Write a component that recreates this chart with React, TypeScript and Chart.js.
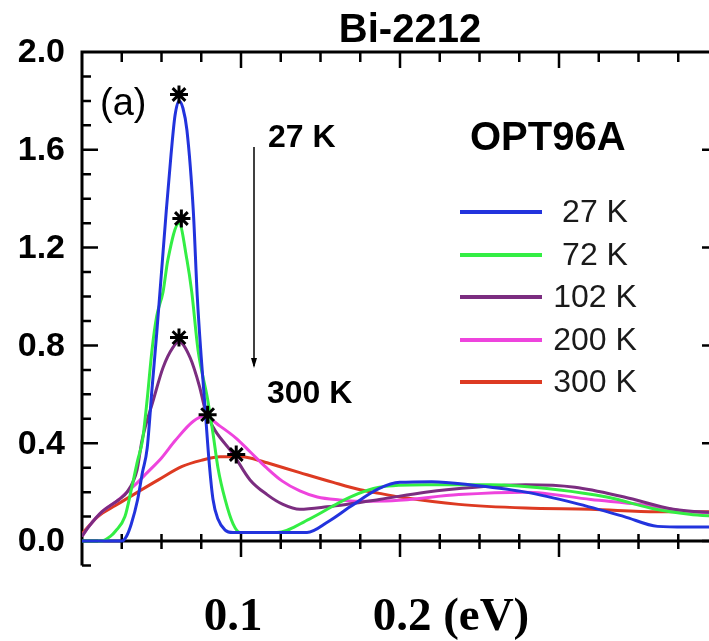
import React, { useEffect, useRef } from 'react';
import { Chart, registerables } from 'chart.js';
Chart.register(...registerables);

// ---- data (energy in eV, spectral weight) ----
const seriesLabels = ['27 K', '72 K', '102 K', '200 K', '300 K'];
const seriesColors = ['#2233dd', '#33ee44', '#7b2d80', '#ee44dd', '#dd3a22'];

const e27 = [0, 0.025, 0.028, 0.031, 0.035, 0.038, 0.041, 0.044, 0.047, 0.050, 0.053, 0.056, 0.0585, 0.061, 0.0635, 0.066, 0.070, 0.0725, 0.075, 0.077, 0.080, 0.0824, 0.0855, 0.090, 0.095, 0.1415, 0.155, 0.1686, 0.187, 0.200, 0.220, 0.2475, 0.279, 0.310, 0.341, 0.362, 0.380, 0.400];
const s27 = [0, 0, 0.02, 0.07, 0.17, 0.28, 0.38, 0.62, 0.85, 1.10, 1.35, 1.58, 1.74, 1.80, 1.77, 1.68, 1.35, 1.00, 0.75, 0.58, 0.32, 0.17, 0.09, 0.045, 0.035, 0.035, 0.08, 0.14, 0.215, 0.24, 0.243, 0.227, 0.20, 0.155, 0.10, 0.06, 0.057, 0.057];

const e72 = [0, 0.012, 0.018, 0.021, 0.027, 0.031, 0.035, 0.038, 0.041, 0.044, 0.047, 0.051, 0.054, 0.061, 0.066, 0.069, 0.073, 0.079, 0.0824, 0.0855, 0.090, 0.095, 0.0994, 0.1226, 0.143, 0.1686, 0.187, 0.216, 0.257, 0.299, 0.330, 0.361, 0.382, 0.400];
const s72 = [0, 0, 0.02, 0.04, 0.10, 0.21, 0.33, 0.41, 0.58, 0.78, 0.92, 1.02, 1.15, 1.30, 1.15, 1.02, 0.78, 0.58, 0.44, 0.30, 0.17, 0.07, 0.035, 0.035, 0.09, 0.18, 0.22, 0.23, 0.23, 0.21, 0.18, 0.13, 0.11, 0.10];

const e102 = [0, 0.0044, 0.0126, 0.0233, 0.0283, 0.0346, 0.0377, 0.045, 0.051, 0.057, 0.061, 0.068, 0.074, 0.0774, 0.0962, 0.1057, 0.1164, 0.1264, 0.137, 0.154, 0.187, 0.216, 0.2475, 0.279, 0.310, 0.341, 0.372, 0.400];
const s102 = [0.02, 0.06, 0.12, 0.17, 0.20, 0.29, 0.41, 0.58, 0.71, 0.79, 0.815, 0.75, 0.63, 0.54, 0.345, 0.25, 0.19, 0.15, 0.13, 0.14, 0.17, 0.20, 0.22, 0.23, 0.22, 0.18, 0.13, 0.115];

const e200 = [0, 0.0044, 0.0126, 0.0233, 0.0283, 0.035, 0.041, 0.050, 0.0585, 0.070, 0.077, 0.0868, 0.097, 0.1057, 0.116, 0.126, 0.137, 0.148, 0.162, 0.174, 0.195, 0.237, 0.279, 0.320, 0.351, 0.382, 0.400];
const s200 = [0.02, 0.06, 0.12, 0.17, 0.20, 0.24, 0.28, 0.34, 0.41, 0.49, 0.51, 0.47, 0.42, 0.365, 0.30, 0.245, 0.205, 0.18, 0.168, 0.163, 0.165, 0.19, 0.20, 0.17, 0.15, 0.12, 0.115];

const e300 = [0, 0.010, 0.021, 0.035, 0.048, 0.063, 0.075, 0.0868, 0.100, 0.1057, 0.1164, 0.137, 0.158, 0.175, 0.187, 0.200, 0.237, 0.279, 0.320, 0.362, 0.400];
const s300 = [0.03, 0.10, 0.145, 0.20, 0.25, 0.305, 0.33, 0.345, 0.345, 0.34, 0.32, 0.28, 0.24, 0.21, 0.195, 0.18, 0.15, 0.135, 0.13, 0.12, 0.12];

// peak markers (asterisks)
const peakE = [0.061, 0.0625, 0.061, 0.079, 0.097];
const peakS = [1.826, 1.319, 0.832, 0.517, 0.354];

const energies = [e27, e72, e102, e200, e300];
const weights = [s27, s72, s102, s200, s300];

const yTickValues = [0, 0.4, 0.8, 1.2, 1.6, 2.0];
const yTickLabels = ['0.0', '0.4', '0.8', '1.2', '1.6', '2.0'];
const xTickValues = [0.1, 0.2];
const xTickLabels = ['0.1', '0.2 (eV)'];

const SANS = '"Liberation Sans", Arial, sans-serif';
const SERIF = '"Liberation Serif", "Times New Roman", serif';

const framePlugin = {
  id: 'frame',
  beforeDatasetsDraw(chart: any) {
    const { ctx, chartArea: a, scales } = chart;
    const x = scales.x, y = scales.y;
    const y0 = y.getPixelForValue(0);
    ctx.save();
    ctx.strokeStyle = '#000';
    ctx.lineCap = 'butt';
    ctx.lineWidth = 3;
    ctx.beginPath();
    ctx.moveTo(a.left, a.bottom);
    ctx.lineTo(a.left, a.top);
    ctx.lineTo(a.right, a.top);
    ctx.lineTo(a.right, y0);
    ctx.moveTo(a.left, y0);
    ctx.lineTo(a.right, y0);
    ctx.stroke();
    ctx.lineWidth = 2.5;
    ctx.beginPath();
    for (let i = 1; i < 16; i++) {
      const px = x.getPixelForValue(i * 0.025);
      const major = i % 4 === 0;
      ctx.moveTo(px, a.top);
      ctx.lineTo(px, a.top + (major ? 16 : 10));
      ctx.moveTo(px, y0 - 7);
      ctx.lineTo(px, y0 + (major ? 16 : 8));
    }
    for (let j = -1; j < 20; j++) {
      const py = y.getPixelForValue(j / 10);
      const major = j >= 0 && j % 4 === 0;
      ctx.moveTo(a.left, py);
      ctx.lineTo(a.left + (major ? 16 : 9), py);
      ctx.moveTo(a.right, py);
      ctx.lineTo(a.right - (major ? 16 : 9), py);
    }
    ctx.stroke();
    ctx.restore();
  },
  afterDraw(chart: any) {
    const { ctx, chartArea: a, scales } = chart;
    const x = scales.x, y = scales.y;
    ctx.save();
    ctx.fillStyle = '#000';
    // title
    ctx.font = `bold 40px ${SANS}`;
    ctx.textAlign = 'center';
    ctx.textBaseline = 'alphabetic';
    ctx.fillText('Bi-2212', 410, 42);
    // y tick labels
    ctx.font = `bold 34px ${SANS}`;
    ctx.textAlign = 'right';
    ctx.textBaseline = 'middle';
    yTickValues.forEach((v, i) => {
      ctx.fillText(yTickLabels[i], a.left - 17, y.getPixelForValue(v) + 1);
    });
    // x tick labels
    ctx.font = `bold 47px ${SERIF}`;
    ctx.textAlign = 'left';
    ctx.textBaseline = 'alphabetic';
    const shifts = [-8, 2];
    xTickValues.forEach((v, i) => {
      const lab = xTickLabels[i];
      const num = lab.split(' ')[0];
      const w = ctx.measureText(num).width;
      ctx.fillText(lab, x.getPixelForValue(v) + shifts[i] - w / 2, 630);
    });
    // panel label
    ctx.font = `38px ${SANS}`;
    ctx.fillText('(a)', 100, 115);
    // temperature arrow
    ctx.font = `bold 32px ${SANS}`;
    ctx.fillText('27 K', 268, 147);
    ctx.fillText('300 K', 267, 403);
    ctx.strokeStyle = '#000';
    ctx.lineWidth = 1.5;
    ctx.beginPath();
    ctx.moveTo(254, 147);
    ctx.lineTo(254, 366);
    ctx.stroke();
    ctx.beginPath();
    ctx.moveTo(251, 358);
    ctx.lineTo(254, 368);
    ctx.lineTo(257, 358);
    ctx.closePath();
    ctx.fill();
    // sample name
    ctx.font = `bold 40px ${SANS}`;
    ctx.fillText('OPT96A', 470, 150);
    // legend
    const ly = [212, 255, 297, 340, 382];
    ctx.font = `32px ${SANS}`;
    ctx.textAlign = 'center';
    ctx.textBaseline = 'middle';
    seriesLabels.forEach((lab, i) => {
      ctx.strokeStyle = seriesColors[i];
      ctx.lineWidth = 4;
      ctx.beginPath();
      ctx.moveTo(460, ly[i]);
      ctx.lineTo(542, ly[i]);
      ctx.stroke();
      ctx.fillStyle = '#1a1a1a';
      ctx.fillText(lab, 595, ly[i] + 1);
    });
    ctx.restore();
  },
};

export default function App() {
  const ref = useRef<HTMLCanvasElement | null>(null);
  useEffect(() => {
    if (!ref.current) return;
    const datasets: any[] = energies.map((es, i) => ({
      label: seriesLabels[i],
      data: es.map((e, k) => ({ x: e, y: weights[i][k] })),
      borderColor: seriesColors[i],
      backgroundColor: seriesColors[i],
      borderWidth: 3,
      pointRadius: 0,
      cubicInterpolationMode: 'monotone',
      fill: false,
    }));
    datasets.push({
      label: 'peaks',
      data: peakE.map((e, k) => ({ x: e, y: peakS[k] })),
      showLine: false,
      pointStyle: 'star',
      pointRadius: 9,
      pointBorderWidth: 3,
      borderColor: '#000',
      backgroundColor: '#000',
      order: -1,
    });
    const chart = new Chart(ref.current, {
      type: 'line',
      data: { datasets },
      options: {
        responsive: false,
        animation: false,
        layout: { padding: { left: 82, top: 52, right: 22, bottom: 75.5 } },
        plugins: { legend: { display: false }, tooltip: { enabled: false }, title: { display: false } },
        scales: {
          x: { type: 'linear', min: 0, max: 0.4, display: false },
          y: { type: 'linear', min: -0.1, max: 2.0, display: false },
        },
      },
      plugins: [framePlugin],
    } as any);
    return () => chart.destroy();
  }, []);
  return (
    <div style={{ position: 'fixed', left: 0, top: 0, width: 709, height: 641, overflow: 'hidden', background: '#fff' }}>
      <canvas ref={ref} width={740} height={641} style={{ display: 'block' }} />
    </div>
  );
}
